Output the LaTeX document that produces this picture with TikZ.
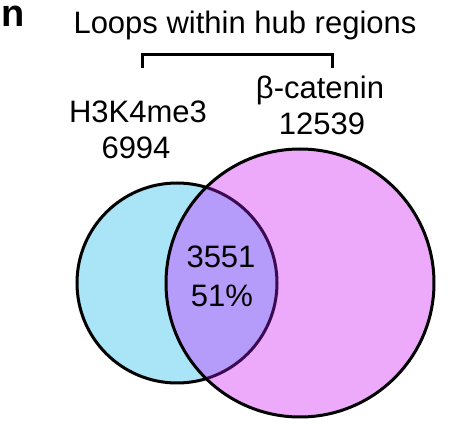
\documentclass[tikz,border=0pt]{standalone}
\usepackage{fontspec}
\setmainfont{Liberation Sans}
\definecolor{blueset}{RGB}{170,228,247}
\definecolor{pinkset}{RGB}{237,170,251}
\definecolor{overlapset}{RGB}{181,155,250}
\definecolor{innerline}{RGB}{60,10,80}
\begin{document}
\begin{tikzpicture}[x=1pt,y=-1pt,
  lbl/.style={anchor=base,inner sep=0pt,font=\fontsize{31}{37}\selectfont},
  setline/.style={line width=3pt}]
\useasboundingbox (0,0) rectangle (451,441);
\coordinate (cb) at (177,283);
\coordinate (cp) at (300,283);
% fills
\fill[blueset] (cb) circle[radius=100];
\draw[setline,black] (cb) circle[radius=100];
\fill[pinkset] (cp) circle[radius=134];
\begin{scope}
  \clip (cb) circle[radius=100];
  \fill[overlapset] (cp) circle[radius=134];
\end{scope}
\begin{scope}
  \clip (cp) circle[radius=134];
  \draw[setline,innerline] (cb) circle[radius=100];
\end{scope}
\draw[setline,black] (cp) circle[radius=134];
% bracket
\draw[setline,line join=miter] (142,68) -- (142,55) -- (332,55) -- (332,68);
% labels
\node[anchor=base west,inner sep=0pt,font=\fontsize{38}{42}\selectfont\bfseries] (panel) at (1,27) {n};
\node[lbl] (title) at (245,34) {Loops within hub regions};
\node[lbl] (bname) at (320,99) {β-catenin};
\node[lbl] (bnum) at (322,135) {12539};
\node[lbl] (hname) at (138,123) {H3K4me3};
\node[lbl] (hnum) at (136,159) {6994};
\node[lbl] (onum) at (221,268) {3551};
\node[lbl] (opct) at (222,307) {51\%};
\end{tikzpicture}
\end{document}
